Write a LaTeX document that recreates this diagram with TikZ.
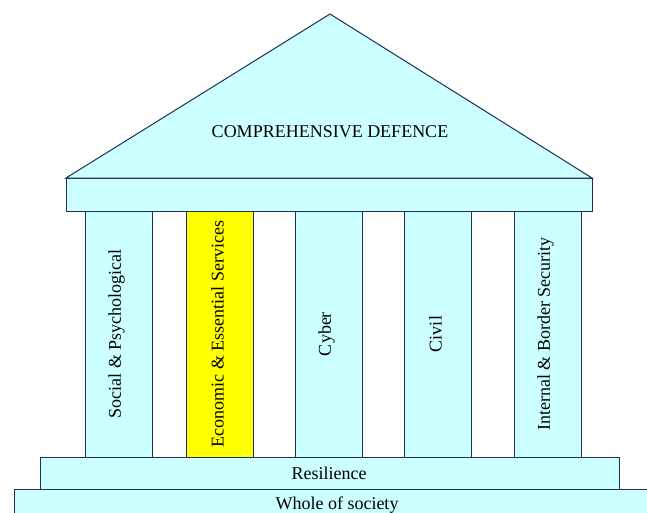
\documentclass[tikz,border=0pt]{standalone}
\usepackage{fontspec}
\setmainfont{Liberation Serif}
\definecolor{fillc}{HTML}{CCFFFF}
\definecolor{linec}{HTML}{1F2F55}
\definecolor{yel}{HTML}{FFFF00}
\begin{document}
\begin{tikzpicture}[x=1pt,y=-1pt,
  part/.style={draw=linec,fill=fillc,line width=1pt,line join=miter},
  lbl/.style={font=\fontsize{18}{21}\selectfont,text=black,inner sep=0pt},
  vlbl/.style={lbl,rotate=90}]
\useasboundingbox (0,0) rectangle (647,512);
% base layers
\draw[part] (14,489) rectangle (660,525);
\node[lbl] (whole) at (337,505) {Whole of society};
\draw[part] (40,457) rectangle (619,489);
\node[lbl] (res) at (329,473.5) {Resilience};
% columns
\foreach \x/\t/\c [count=\i] in {85/Social \& Psychological/fillc,186/Economic \& Essential Services/yel,295/Cyber/fillc,404/Civil/fillc,514/Internal \& Border Security/fillc}{
  \draw[part,fill=\c] (\x,211) rectangle ++(67,246);
  \node[vlbl] (col\i) at (\x+31.5,334) {\t};
}
% entablature
\draw[part] (66,178) rectangle (592,211);
% roof
\draw[part] (66,178) -- (330,14) -- (592,178) -- cycle;
\node[lbl] (roof) at (330,131.5) {COMPREHENSIVE DEFENCE};
\end{tikzpicture}
\end{document}
